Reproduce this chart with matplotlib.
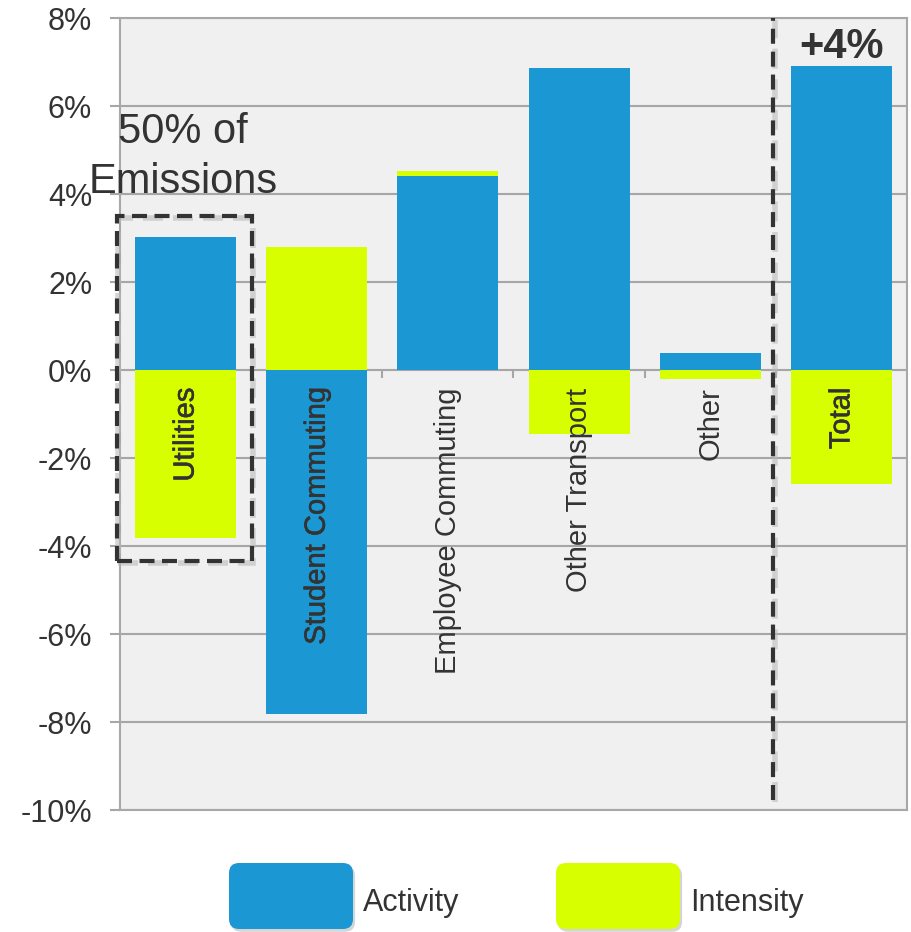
import matplotlib
matplotlib.use('Agg')
import matplotlib.pyplot as plt
from matplotlib.patches import FancyBboxPatch, Rectangle
from matplotlib.transforms import IdentityTransform, offset_copy
import matplotlib.patheffects as pe
import numpy as np

plt.rcParams['font.family'] = ['Liberation Sans', 'DejaVu Sans']

categories = ['Utilities', 'Student Commuting', 'Employee Commuting',
              'Other Transport', 'Other', 'Total']
activity = [3.03, -7.82, 4.42, 6.86, 0.39, 6.92]
intensity = [-3.82, 2.80, 0.10, -1.45, -0.20, -2.59]
emphasised_labels = [True, True, False, False, False, True]
y_ticks = [-10, -8, -6, -4, -2, 0, 2, 4, 6, 8]
y_tick_labels = ['-10%', '-8%', '-6%', '-4%', '-2%', '0%', '2%', '4%', '6%', '8%']
series_names = ['Activity', 'Intensity']
total_label = '+4%'
highlight_lines = ['50% of', 'Emissions']

BLUE = '#1B97D4'
YELLOW = '#D8FF00'
TEXT = '#333333'
GRID = '#A6A6A6'
DASH = '#333333'

W, H = 912, 932
fig = plt.figure(figsize=(W / 100, H / 100), dpi=100)
fig.patch.set_facecolor('white')
ax = fig.add_axes([120 / W, 1 - 810 / H, 787 / W, 792 / H])
ax.set_facecolor('#F0F0F0')

x = np.arange(len(categories))
width = 0.77
pos_base = np.zeros(len(x))
neg_base = np.zeros(len(x))
for vals, color in [(activity, BLUE), (intensity, YELLOW)]:
    v = np.array(vals, dtype=float)
    bottoms = np.where(v >= 0, pos_base, neg_base)
    ax.bar(x, v, width, bottom=bottoms, color=color, zorder=3, linewidth=0)
    pos_base += np.where(v >= 0, v, 0)
    neg_base += np.where(v < 0, v, 0)

ax.set_xlim(-0.5, len(categories) - 0.5)
ax.set_ylim(-10, 8)
ax.set_yticks(y_ticks)
ax.set_yticklabels(y_tick_labels)
ax.set_xticks([])
ax.yaxis.grid(True, color=GRID, linewidth=1.5, zorder=0)
ax.set_axisbelow(True)
ax.tick_params(axis='y', length=7, width=1.5, color=GRID, pad=13,
               labelsize=22, labelcolor=TEXT)
for s in ax.spines.values():
    s.set_color('#A8A8A8')
    s.set_linewidth(1.5)

# category boundary ticks on the zero line
ax.vlines(x[:-1] + 0.5, -0.18, 0, color=GRID, linewidth=1.5, zorder=2)

# category labels
for i, c in enumerate(categories):
    kw = {}
    if emphasised_labels[i]:
        kw['path_effects'] = [pe.withStroke(linewidth=0.4, foreground=TEXT)]
    ax.text(i, -0.4, c, rotation=90, ha='center', va='top', fontsize=21,
            color=TEXT, zorder=5, **kw)

# soft shadow transform
shadow_tr = offset_copy(ax.transData, fig=fig, x=1.5, y=-2, units='dots')

# dashed highlight box around Utilities
box = dict(xy=(-0.523, -4.35), width=1.027, height=7.85)
ax.add_patch(Rectangle(box['xy'], box['width'], box['height'], fill=False,
                       linestyle=(0, (3.6, 1.8)), linewidth=4, edgecolor='#BBBBBB',
                       alpha=0.6, clip_on=False, zorder=5, transform=shadow_tr))
ax.add_patch(Rectangle(box['xy'], box['width'], box['height'], fill=False,
                       linestyle=(0, (3.6, 1.8)), linewidth=3, edgecolor=DASH,
                       clip_on=False, zorder=6))

# dashed separator before Total
sep_x = len(categories) - 1.52
ax.vlines([sep_x], -9.77, 8, linestyles=[(0, (3.6, 1.9))], linewidth=4,
          colors='#BBBBBB', alpha=0.6, zorder=5, transform=shadow_tr, clip_on=False)
ax.vlines([sep_x], -9.77, 8, linestyles=[(0, (3.6, 1.9))], linewidth=3,
          colors=DASH, zorder=6, clip_on=False)

# annotations
ax.text(5, 7.1, total_label, ha='center', va='baseline', fontsize=30,
        fontweight='bold', color=TEXT, zorder=7)
ax.text(-0.02, 5.16, highlight_lines[0], ha='center', va='baseline', fontsize=30,
        color=TEXT, zorder=7)
ax.text(-0.02, 4.03, highlight_lines[1], ha='center', va='baseline', fontsize=30,
        color=TEXT, zorder=7)

# legend (rounded swatches)
shadow_p = [pe.SimplePatchShadow(offset=(1.5, -2), shadow_rgbFace='#888888', alpha=0.35),
            pe.Normal()]
for (x0, tx), name, color in zip([(229, 363), (556, 690)], series_names, [BLUE, YELLOW]):
    p = FancyBboxPatch((x0, H - 929), 124, 66,
                       boxstyle='round,pad=0,rounding_size=10',
                       transform=IdentityTransform(), facecolor=color,
                       edgecolor='none', path_effects=shadow_p)
    fig.add_artist(p)
    fig.text(tx / W, 1 - 903 / H, name, ha='left', va='center', fontsize=22,
             color=TEXT)

fig.savefig('out.png', dpi=100)
